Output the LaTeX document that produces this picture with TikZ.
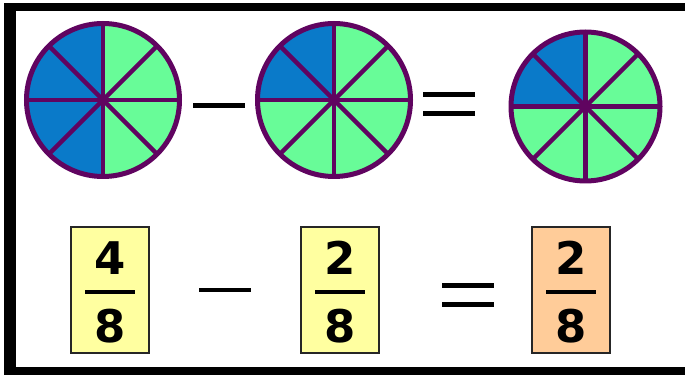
\documentclass[tikz,border=0pt]{standalone}
\usepackage{fontspec}
\setmainfont{DejaVu Sans}
\definecolor{pieblue}{RGB}{10,122,201}
\definecolor{piegreen}{RGB}{104,252,152}
\definecolor{piepurple}{RGB}{96,4,96}
\definecolor{boxyellow}{RGB}{255,255,160}
\definecolor{boxorange}{RGB}{255,204,153}
\tikzset{
  pienode/.style={circle, inner sep=0pt, minimum size=#1},
  fracbox/.style={draw=black!85, line width=1.6pt, minimum width=78pt, minimum height=126pt, inner sep=0pt},
  digit/.style={anchor=base, inner sep=0pt, font=\fontsize{45}{45}\selectfont\bfseries},
  fracbar/.style={line width=4pt},
  opline/.style={line width=5pt},
  rim/.style={draw=piepurple, line width=5pt},
  spoke/.style={piepurple, line width=4.5pt},
}
\newcommand{\mypie}[3]{% name, radius, number of blue sectors from 90 deg
  \foreach \k in {0,...,7}{
    \pgfmathtruncatemacro{\blue}{\k<#3 ? 1 : 0}
    \ifnum\blue=1 \def\col{pieblue}\else\def\col{piegreen}\fi
    \fill[\col] (#1.center) -- ++({90+45*\k}:#2) arc[start angle={90+45*\k}, end angle={135+45*\k}, radius=#2] -- cycle;
  }
  \foreach \a in {0,45,90,135}{
    \draw[spoke] (#1.center) ++(\a:#2) -- ++(\a+180:2*#2);
  }
  \draw[rim] (#1.center) circle[radius=#2];
  \fill[piepurple] (#1.center) circle[radius=3.5pt];
}
\begin{document}
\begin{tikzpicture}[x=1pt,y=1pt]
\useasboundingbox (0,0) rectangle (685,375);
\fill[white] (0,0) rectangle (685,375);
% frame
\fill[black] (4,364) rectangle (685,372);
\fill[black] (4,0) rectangle (16,372);
\fill[black] (4,0) rectangle (685,8);
% pies
\node[pienode=153pt] (p1) at (103,275) {};
\node[pienode=153pt] (p2) at (334,275) {};
\node[pienode=149pt] (p3) at (585.5,268.5) {};
\mypie{p1}{76.5}{4}
\mypie{p2}{76.5}{2}
\mypie{p3}{74.5}{2}
% top operators
\coordinate (m1a) at (193,269);
\coordinate (m1b) at (245,269);
\draw[opline] (m1a) -- (m1b);
\coordinate (e1a) at (423,280.5);
\coordinate (e1b) at (475,280.5);
\coordinate (e2a) at (423,261);
\coordinate (e2b) at (475,261);
\draw[opline] (e1a) -- (e1b);
\draw[opline] (e2a) -- (e2b);
% fraction boxes
\node[fracbox, fill=boxyellow] (b1) at (110,85) {};
\node[fracbox, fill=boxyellow] (b2) at (340,85) {};
\node[fracbox, fill=boxorange] (b3) at (571,85) {};
\node[digit] (n1) at (110,100) {4};
\node[digit] (d1) at (110,33) {8};
\node[digit] (n2) at (340,100) {2};
\node[digit] (d2) at (340,33) {8};
\node[digit] (n3) at (571,100) {2};
\node[digit] (d3) at (571,33) {8};
\draw[fracbar] ([xshift=-25pt]b1.center |- 0,83) -- ([xshift=25pt]b1.center |- 0,83);
\draw[fracbar] ([xshift=-25pt]b2.center |- 0,83) -- ([xshift=25pt]b2.center |- 0,83);
\draw[fracbar] ([xshift=-25pt]b3.center |- 0,83) -- ([xshift=25pt]b3.center |- 0,83);
% bottom operators
\coordinate (m2a) at (199,85);
\coordinate (m2b) at (251,85);
\draw[line width=4.5pt] (m2a) -- (m2b);
\coordinate (e3a) at (442,90);
\coordinate (e3b) at (494,90);
\coordinate (e4a) at (442,71);
\coordinate (e4b) at (494,71);
\draw[opline] (e3a) -- (e3b);
\draw[opline] (e4a) -- (e4b);
\end{tikzpicture}
\end{document}
